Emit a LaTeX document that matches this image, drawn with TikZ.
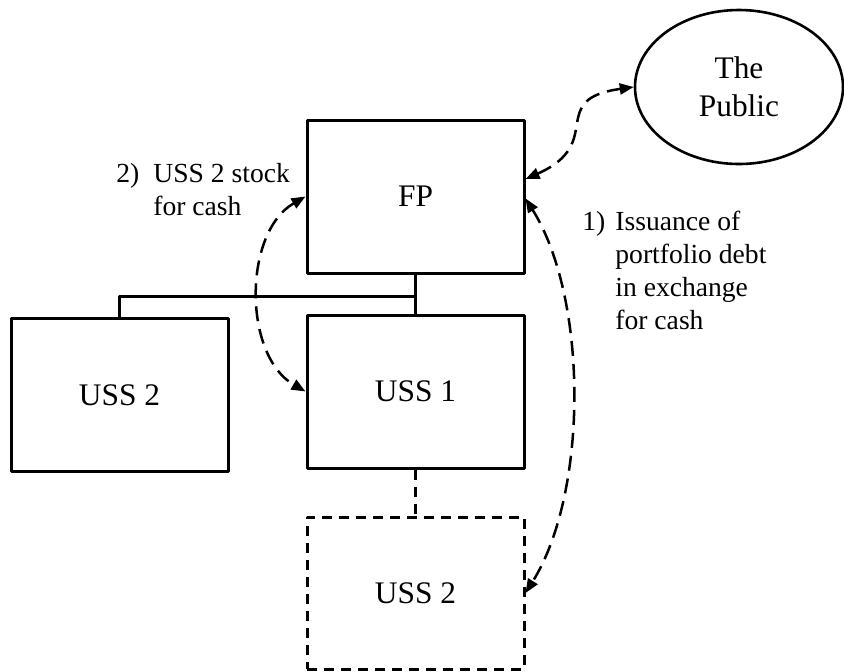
\documentclass[tikz,border=0pt]{standalone}
\usepackage{fontspec}
\setmainfont{Liberation Serif}
\usetikzlibrary{shapes,arrows.meta}
\usetikzlibrary{positioning}

\begin{document}
\begin{tikzpicture}[line join=round,>={Triangle[length=7pt,width=5.5pt]},x=0.5pt,y=0.5pt,
	box/.style={draw,line width=1.5pt,minimum width=108.5pt,minimum height=76.5pt,
		font=\fontsize{15.7}{19}\selectfont},
	swap/.style={<->,line width=1.25pt,dash pattern=on 7.5pt off 4pt},
	note/.style={anchor=base west,inner sep=0pt,font=\fontsize{13.8}{16.5}\selectfont}]
	\useasboundingbox (0,0) rectangle (844,-671);
	\node[box] (fp) at (415.5,-196.5) {FP};
	\node[box] (uss1) at (415.5,-391.5) {USS 1};
	\node[box] (uss2) at (119.5,-395) {USS 2};
	\node[box,dash pattern=on 5pt off 3.5pt,minimum height=76pt] (uss2b) at (415.5,-593) {USS 2};
	\node[ellipse,draw,line width=1.3pt,inner sep=0pt,minimum width=104pt,minimum height=77pt,
		align=center,font=\fontsize{15.7}{19}\selectfont] (pub) at (739,-87) {The\\Public};
	% ownership tree
	\coordinate (knot) at (415.5,-296);
	\draw[line width=1.5pt] (fp) -- (uss1);
	\draw[line width=1.5pt] (knot) -| (uss2);
	\draw[line width=1.5pt,dash pattern=on 5pt off 3.5pt] (uss1) -- (uss2b);
	% flows
	\draw[swap] (fp.9) to[out=24,in=188,looseness=1.6] (pub.west);
	\draw[swap] (fp.-1) to[out=-58,in=58,looseness=0.77] (uss2b.east);
	\draw[swap] (fp.west) to[out=210,in=150,looseness=0.95] (uss1.west);
	\node[note] (deal1) at (582,-230) {\begin{tabular}[t]{@{}p{16.5pt}@{}l@{}}
		1) & Issuance of\\ & portfolio debt\\ & in exchange\\ & for cash\end{tabular}};
	\node[note] (deal2) at (116,-182) {\begin{tabular}[t]{@{}p{18.5pt}@{}l@{}}
		2) & USS 2 stock\\ & for cash\end{tabular}};
\end{tikzpicture}
\end{document}
